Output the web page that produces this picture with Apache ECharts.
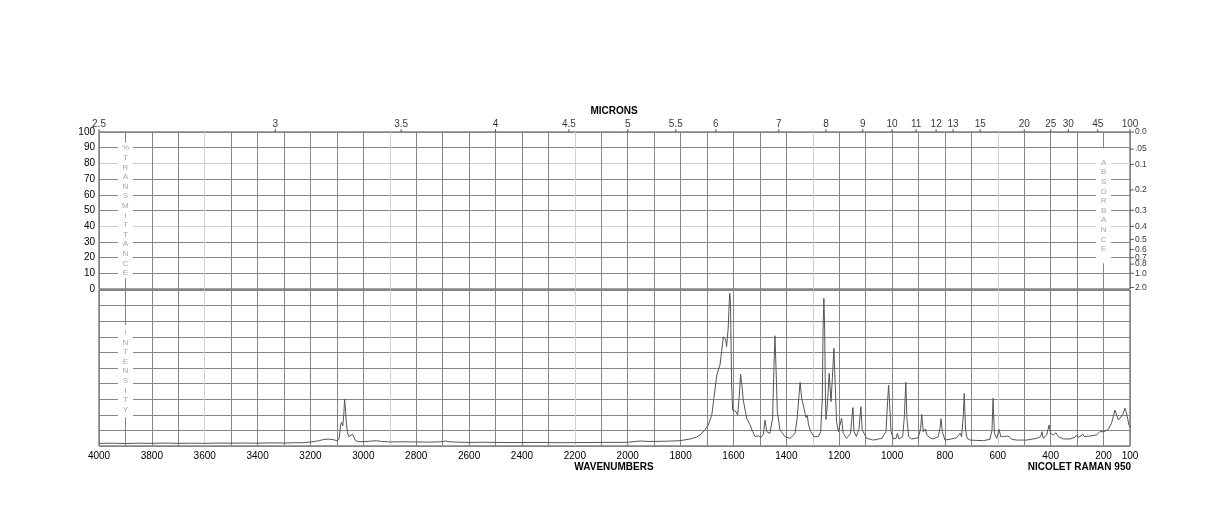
<!DOCTYPE html>
<html>
<head>
<meta charset="utf-8">
<script src="https://cdn.jsdelivr.net/npm/echarts@6/dist/echarts.min.js"></script>
<style>
  html, body { margin: 0; padding: 0; background: #fff; }
  #chart { width: 1224px; height: 528px; }
</style>
</head>
<body>
<div id="chart"></div>
<script>
// Raman spectrum: wavenumber (cm-1) and intensity (% of the lower panel)
const wavenumbers = [
    4000, 3950, 3900, 3850, 3800, 3750, 3700, 3650, 3600, 3550, 3500, 3450, 3400, 3350, 3300, 3260, 3227,
    3200, 3170, 3150, 3130, 3115, 3100, 3092, 3086, 3082, 3078, 3074, 3071, 3069, 3067, 3064, 3060, 3055,
    3048, 3041, 3036, 3030, 3020, 3000, 2980, 2950, 2930, 2900, 2850, 2800, 2750, 2700, 2690, 2680, 2650,
    2600, 2550, 2500, 2450, 2400, 2350, 2300, 2256, 2200, 2150, 2100, 2050, 2000, 1965, 1950, 1920, 1878,
    1850, 1802, 1764, 1740, 1727, 1708, 1695, 1682, 1674, 1663, 1651, 1645, 1638, 1633, 1629, 1626, 1620,
    1616, 1614, 1611, 1607, 1603, 1597, 1590, 1584, 1578, 1573, 1568, 1563, 1556, 1550, 1537, 1527, 1518,
    1506, 1497, 1487, 1481, 1474, 1462, 1452, 1447, 1443, 1439, 1434, 1424, 1405, 1386, 1367, 1359, 1352,
    1348, 1342, 1336, 1329, 1326, 1321, 1316, 1308, 1295, 1279, 1270, 1264, 1261, 1258, 1255, 1252, 1250,
    1245, 1238, 1231, 1226, 1220, 1215, 1210, 1203, 1197, 1191, 1185, 1172, 1157, 1152, 1148, 1144, 1135,
    1125, 1118, 1113, 1106, 1096, 1071, 1039, 1023, 1017, 1013, 1009, 1004, 995, 985, 980, 974, 960, 954,
    948, 944, 937, 926, 901, 892, 888, 882, 874, 869, 857, 844, 825, 819, 815, 810, 800, 775, 756, 743,
    737, 731, 727, 722, 716, 705, 655, 630, 622, 618, 613, 604, 595, 589, 579, 566, 557, 548, 529, 491,
    453, 438, 433, 428, 415, 406, 400, 390, 380, 371, 352, 327, 308, 302, 296, 285, 279, 273, 251, 226,
    214, 207, 198, 182, 170, 157, 153, 144, 138, 128, 119, 113, 104, 100
];
const intensity = [
    1.7, 1.8, 1.6, 1.8, 1.7, 1.9, 1.7, 1.8, 1.7, 1.9, 1.8, 1.9, 1.8, 2.0, 1.9, 2.1, 2.1,
    2.6, 3.3, 4.2, 4.4, 4.1, 3.4, 4.5, 13.5, 15.2, 12.8, 20, 30, 31.2, 22, 14, 8.5, 6,
    6.3, 7.6, 6.5, 3.5, 2.8, 2.8, 3.0, 3.4, 2.9, 2.6, 2.7, 2.6, 2.5, 2.7, 3.3, 2.8, 2.5,
    2.3, 2.4, 2.3, 2.2, 2.2, 2.3, 2.2, 2.1, 2.2, 2.2, 2.3, 2.3, 2.4, 3.0, 3.2, 2.9, 3.0,
    3.1, 3.4, 4.5, 5.6, 7, 10.3, 13.5, 19.9, 30.6, 45.5, 51.9, 60.4, 70, 71.2, 68, 63.7, 75.4,
    92, 97.9, 90.4, 39, 23, 23.7, 22, 19.9, 32.7, 46, 39, 29.5, 28.4, 17.8, 13.5, 9.2, 6,
    6.6, 5.3, 7.5, 16.7, 9.2, 8.1, 17.8, 49.8, 70.7, 49.8, 22, 10.3, 6, 4.9, 8.1, 17.8, 32.7,
    40.8, 30.6, 26.3, 21, 18.2, 19.9, 13.5, 9.2, 6, 6, 9.2, 30, 75, 94.7, 75, 30, 17,
    26.3, 46.6, 28.4, 43.4, 62.6, 39, 15.6, 9.2, 13.5, 17.8, 8.1, 4.9, 8.1, 17.8, 24.6, 9.2, 6,
    11.3, 25.2, 10.3, 9.2, 4.9, 3.8, 4.9, 9.2, 28.4, 39, 26.3, 9.2, 4.5, 4.9, 8.1, 4.5, 6, 17.8,
    40.8, 17.8, 6, 4.5, 5.3, 11.3, 20.3, 9.2, 10.9, 7.1, 5.3, 4.5, 6, 11.3, 17.5, 9.2, 3.8, 4.5, 5.3, 8.1,
    6, 18.8, 33.8, 10.3, 4.9, 3.8, 3.4, 4.3, 10.3, 30.6, 8.1, 4.9, 10.7, 6, 6, 6.4, 6, 4.3, 3.8, 3.8,
    4.9, 6, 9.2, 4.9, 7.1, 13.5, 8.1, 7.1, 8.5, 6, 4.5, 4.5, 5.6, 7.1, 5.6, 6.4, 7.7, 6, 6.4, 7.1,
    9.2, 10.3, 9.2, 10.7, 14.5, 23, 23, 16.7, 15.6, 19.9, 24.2, 21, 13.5, 12
];

// top scale in microns (placed at 10000 / micron cm-1)
const micronTicks = [2.5, 3, 3.5, 4, 4.5, 5, 5.5, 6, 7, 8, 9, 10, 11, 12, 13, 15, 20, 25, 30, 45, 100];
// right scale: absorbance, placed at transmittance 100 * 10^-A
const absorbanceTicks = [0, 0.05, 0.1, 0.2, 0.3, 0.4, 0.5, 0.6, 0.7, 0.8, 1.0, 2.0];
const absorbanceLabels = ['0.0', '.05', '0.1', '0.2', '0.3', '0.4', '0.5', '0.6', '0.7', '0.8', '1.0', '2.0'];

const font = 'Liberation Sans, Arial, sans-serif';
const gridColor = '#858585';
const paleColor = '#cfcfcf';

// a few grid lines in the scan come out paler than the rest
const paleWavenumbers = [600, 1300, 2200, 2900, 3600];
const xSplitColors = [];
for (let v = 100; v <= 4000; v += 100) {
    xSplitColors.push(paleWavenumbers.includes(v) ? paleColor : gridColor);
}
const topSplitColors = [];
for (let v = 0; v <= 100; v += 10) {
    topSplitColors.push(v === 40 || v === 80 ? paleColor : gridColor);
}

const spectrum = wavenumbers.map((w, i) => [w, intensity[i]]);

const chart = echarts.init(document.getElementById('chart'), null, { renderer: 'canvas' });

const option = {
    animation: false,
    textStyle: { fontFamily: font },
    grid: [
        { left: 99, right: 94, top: 132, height: 157, show: true, borderColor: '#444', borderWidth: 1 },
        { left: 99, right: 94, top: 290, height: 156, show: true, borderColor: '#444', borderWidth: 1 },
    ],
    xAxis: [
        {
            gridIndex: 0, type: 'value', min: 100, max: 4000, interval: 100, inverse: true,
            axisLine: { show: false }, axisTick: { show: false }, axisLabel: { show: false },
            splitLine: { show: true, lineStyle: { color: xSplitColors, width: 1 } },
        },
        {
            gridIndex: 1, type: 'value', min: 100, max: 4000, interval: 100, inverse: true,
            axisLine: { show: false }, axisTick: { show: false },
            axisLabel: {
                margin: 5, fontSize: 10, color: '#000', fontFamily: font,
                formatter: (v) => (v % 200 === 0 || v === 100 ? String(v) : ''),
            },
            splitLine: { show: true, lineStyle: { color: xSplitColors, width: 1 } },
        },
    ],
    yAxis: [
        {
            gridIndex: 0, type: 'value', min: 0, max: 100, interval: 10,
            axisLine: { show: false }, axisTick: { show: false },
            axisLabel: { margin: 4, fontSize: 10, color: '#000', fontFamily: font },
            splitLine: { show: true, lineStyle: { color: topSplitColors, width: 1 } },
        },
        {
            gridIndex: 1, type: 'value', min: 0, max: 100, interval: 10,
            axisLine: { show: false }, axisTick: { show: false }, axisLabel: { show: false },
            splitLine: { show: true, lineStyle: { color: gridColor, width: 1 } },
        },
    ],
    series: [
        {
            name: 'spectrum',
            type: 'line',
            xAxisIndex: 1,
            yAxisIndex: 1,
            data: spectrum,
            showSymbol: false,
            lineStyle: { color: '#555', width: 1 },
            z: 5,
        },
        {
            name: 'microns',
            type: 'scatter',
            xAxisIndex: 0,
            yAxisIndex: 0,
            clip: false,
            symbol: 'rect',
            symbolSize: [1, 3],
            symbolOffset: [0, -1.5],
            itemStyle: { color: '#333' },
            label: { show: true, position: 'top', distance: 0, color: '#000', fontSize: 10, fontFamily: font, formatter: '{b}' },
            data: micronTicks.map((m) => ({ name: String(m), value: [10000 / m, 100] })),
        },
        {
            name: 'absorbance',
            type: 'scatter',
            xAxisIndex: 0,
            yAxisIndex: 0,
            clip: false,
            symbol: 'rect',
            symbolSize: [4, 1],
            symbolOffset: [2, 0],
            itemStyle: { color: '#333' },
            label: { show: true, position: 'right', distance: 1, color: '#000', fontSize: 8.5, fontFamily: font, formatter: '{b}' },
            data: absorbanceTicks.map((a, i) => ({ name: absorbanceLabels[i], value: [100, 100 * Math.pow(10, -a)] })),
        },
    ],
};

chart.setOption(option);

// vertical spelled-out axis words, each on a white strip that breaks the grid
const words = [
    { text: '%TRANSMITTANCE', grid: 0, at: [3900, 50], pad: 1 },
    { text: 'ABSORBANCE', grid: 0, at: [200, 53], pad: 19 },
    { text: 'INTENSITY', grid: 1, at: [3900, 48], pad: 6 },
];
const lineH = 9.6;
const graphics = [
    {
        type: 'text', x: 614, y: 111, z: 10,
        style: { text: 'MICRONS', font: 'bold 10px ' + font, fill: '#000', align: 'center', verticalAlign: 'middle' },
    },
    {
        type: 'text', x: 614, y: 467, z: 10,
        style: { text: 'WAVENUMBERS', font: 'bold 10px ' + font, fill: '#000', align: 'center', verticalAlign: 'middle' },
    },
    {
        type: 'text', x: 1131, y: 467, z: 10,
        style: { text: 'NICOLET RAMAN 950', font: 'bold 10px ' + font, fill: '#000', align: 'right', verticalAlign: 'middle' },
    },
];
words.forEach((w) => {
    const p = chart.convertToPixel({ gridIndex: w.grid }, w.at);
    const h = w.text.length * lineH + w.pad;
    graphics.push({
        type: 'rect', z: 4,
        shape: { x: p[0] - 7.5, y: p[1] - h / 2, width: 15, height: h },
        style: { fill: '#fff' },
    });
    graphics.push({
        type: 'text', x: p[0], y: p[1], z: 4,
        style: {
            text: w.text.split('').join('\n'),
            font: '8px ' + font,
            lineHeight: lineH,
            fill: '#a6a6a6',
            align: 'center',
            verticalAlign: 'middle',
        },
    });
});
chart.setOption({ graphic: graphics });
</script>
</body>
</html>
